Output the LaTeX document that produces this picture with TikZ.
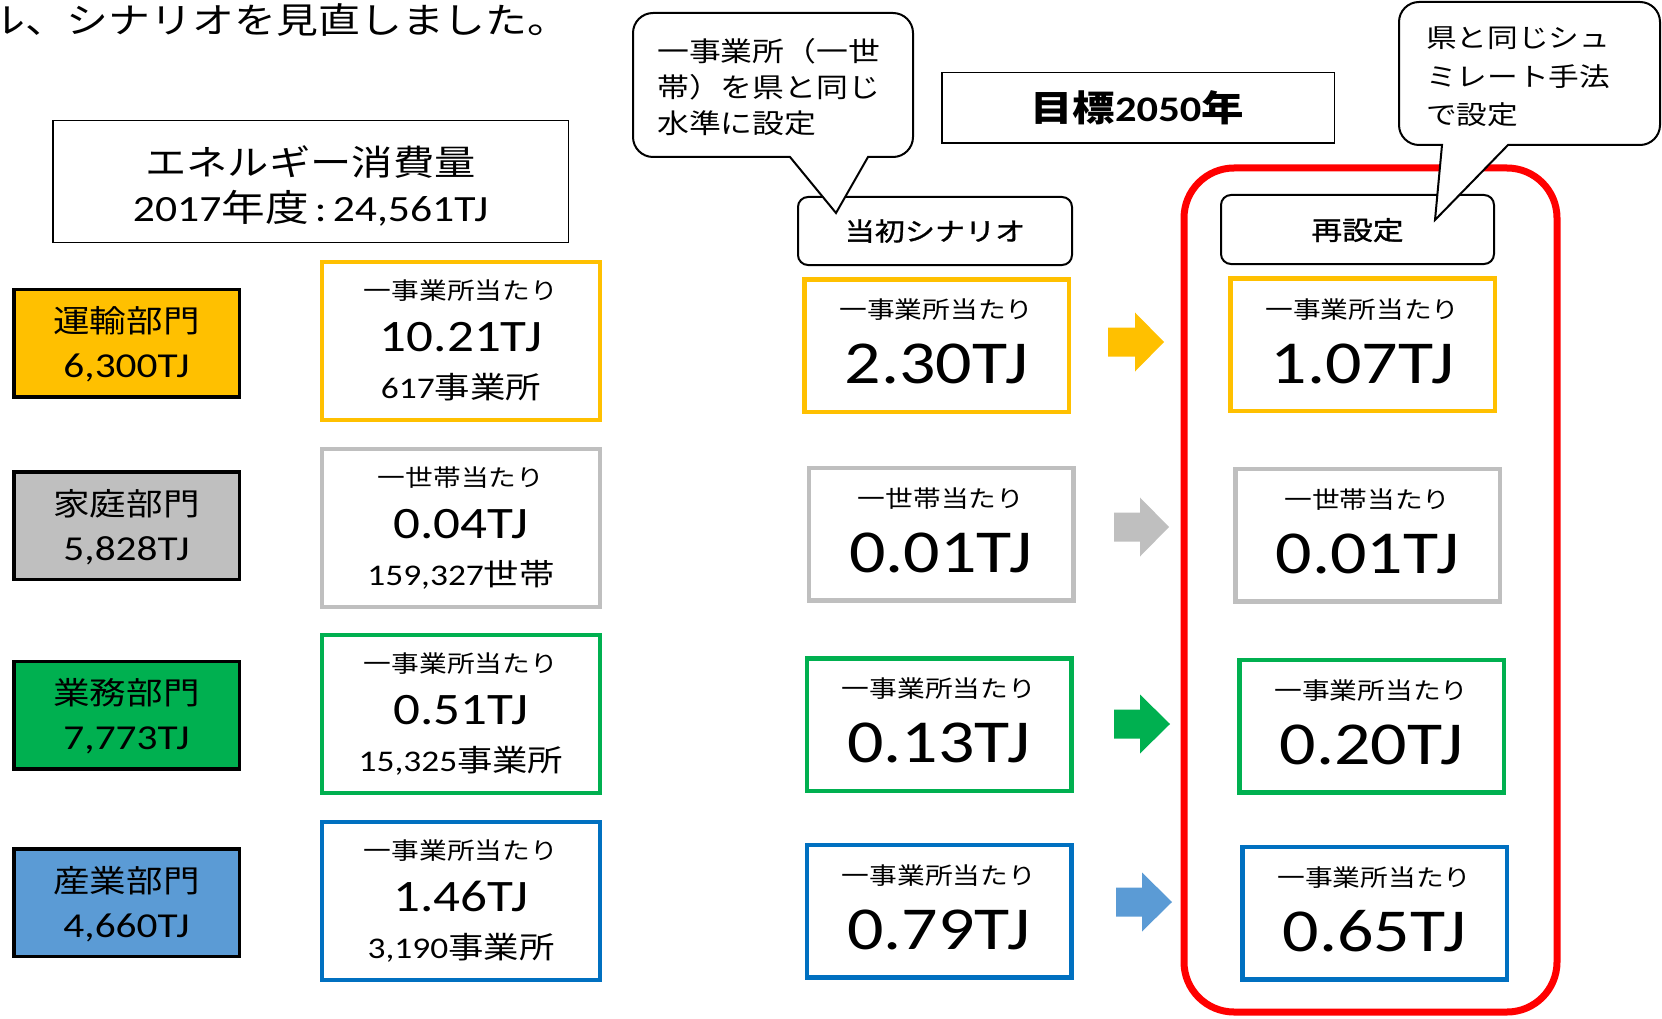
\documentclass[tikz,border=0pt]{standalone}
\usepackage{fontspec}
\setmainfont{Noto Sans CJK JP}[FakeStretch=1.18]
\newfontfamily\lat{Carlito}[FakeStretch=1.18]
\newfontfamily\jpm{Noto Sans CJK JP}[FakeStretch=1.18,FakeBold=1.2]
\newcommand\nm[1]{{\lat #1}}
\newcommand\fs[1]{\fontsize{#1}{#1}\selectfont}
\definecolor{cyel}{HTML}{FFC000}
\definecolor{cgry}{HTML}{BFBFBF}
\definecolor{cgrn}{HTML}{00B050}
\definecolor{cblu}{HTML}{0070C0}
\definecolor{cbll}{HTML}{5B9BD5}
\definecolor{cred}{HTML}{FF0000}
\tikzset{
  sect/.style={draw=black, line width=3.5, fill=#1, minimum width=225.5, minimum height=107.5, inner sep=0},
  mbox/.style={draw=#1, line width=4, fill=white, minimum width=278, minimum height=158, inner sep=0},
  sbox/.style={draw=#1, line width=4.5, fill=white, minimum width=264.5, minimum height=132.5, inner sep=0},
  lbl/.style={draw=black, line width=2, rounded corners=10, fill=white, inner sep=0},
  plainbox/.style={draw=black, line width=1.5, inner sep=0},
  txt/.style={anchor=base, inner sep=0},
  ltxt/.style={anchor=base west, inner sep=0},
  callout/.style={draw=black, line width=2, fill=white, line join=miter},
}
\begin{document}
\begin{tikzpicture}[x=1pt,y=-1pt]
\useasboundingbox (0,0) rectangle (1662,1019);
% intro text
\node[ltxt, font=\fs{35.5}] (intro) at (-17,33.5) {ル、シナリオを見直しました。};
% energy box
\node[plainbox, minimum width=515.5, minimum height=121.5] (energy) at (310.5,181.5) {};
\node[txt, font=\fs{35}] (energyT) at (310.5,176) {エネルギー消費量};
\node[txt, font=\fs{37}] (energyV) at (310.5,222) {\nm{2017}年度\nm{\thinspace:\thinspace 24,561TJ}};
% sectors
\node[sect=cyel] (s1) at (126.5,343) {};
\node[txt, font=\fs{31}] (s1a) at (126.5,332.8) {運輸部門};
\node[txt, font=\fs{35}] (s1b) at (126.5,377) {\nm{6,300TJ}};
\node[sect=cgry] (s2) at (126.5,525.5) {};
\node[txt, font=\fs{31}] (s2a) at (126.5,515.8) {家庭部門};
\node[txt, font=\fs{35}] (s2b) at (126.5,560) {\nm{5,828TJ}};
\node[sect=cgrn] (s3) at (126.5,715) {};
\node[txt, font=\fs{31}] (s3a) at (126.5,704.8) {業務部門};
\node[txt, font=\fs{35}] (s3b) at (126.5,749) {\nm{7,773TJ}};
\node[sect=cbll] (s4) at (126.5,902.5) {};
\node[txt, font=\fs{31}] (s4a) at (126.5,892.8) {産業部門};
\node[txt, font=\fs{35}] (s4b) at (126.5,937) {\nm{4,660TJ}};
% middle column
\node[mbox=cyel] (m1) at (461,341) {};
\node[txt, font=\fs{23.5}] (m1a) at (461,299.4) {一事業所当たり};
\node[txt, font=\fs{45}] (m1b) at (461,351.9) {\nm{10.21TJ}};
\node[txt, font=\fs{30}] (m1c) at (461,398.9) {\nm{617}事業所};
\node[mbox=cgry] (m2) at (461,528) {};
\node[txt, font=\fs{23.5}] (m2a) at (461,486.4) {一世帯当たり};
\node[txt, font=\fs{45}] (m2b) at (461,538.9) {\nm{0.04TJ}};
\node[txt, font=\fs{30}] (m2c) at (461,585.9) {\nm{159,327}世帯};
\node[mbox=cgrn] (m3) at (461,714) {};
\node[txt, font=\fs{23.5}] (m3a) at (461,672.4) {一事業所当たり};
\node[txt, font=\fs{45}] (m3b) at (461,724.9) {\nm{0.51TJ}};
\node[txt, font=\fs{30}] (m3c) at (461,771.9) {\nm{15,325}事業所};
\node[mbox=cblu] (m4) at (461,901) {};
\node[txt, font=\fs{23.5}] (m4a) at (461,859.4) {一事業所当たり};
\node[txt, font=\fs{45}] (m4b) at (461,911.9) {\nm{1.46TJ}};
\node[txt, font=\fs{30}] (m4c) at (461,958.9) {\nm{3,190}事業所};
% target box
\node[plainbox, minimum width=392.5, minimum height=70.5] (target) at (1138,108) {};
\node[txt, font=\bfseries\fs{36}] (targetT) at (1137,122) {目標\nm{\bfseries 2050}年};
% red frame
\node[draw=cred, line width=7, rounded corners=50, minimum width=373, minimum height=844, inner sep=0] (frame) at (1370.5,590) {};
% labels
\node[lbl, minimum width=274, minimum height=68] (init) at (935,231) {};
\node[txt, font=\jpm\fs{25.5}] (initT) at (935,240.7) {当初シナリオ};
\node[lbl, minimum width=273, minimum height=69] (reset) at (1357.5,229.5) {};
\node[txt, font=\jpm\fs{26}] (resetT) at (1357.5,239.9) {再設定};
% scenario boxes
\node[sbox=cyel] (a1) at (936.5,345.5) {};
\node[txt, font=\fs{23.5}] (a1a) at (936.5,318) {一事業所当たり};
\node[txt, font=\fs{61}] (a1b) at (936.5,383.5) {\nm{2.30TJ}};
\node[sbox=cgry] (a2) at (941,534) {};
\node[txt, font=\fs{23.5}] (a2a) at (941,507) {一世帯当たり};
\node[txt, font=\fs{61}] (a2b) at (941,572.5) {\nm{0.01TJ}};
\node[sbox=cgrn] (a3) at (939,724.5) {};
\node[txt, font=\fs{23.5}] (a3a) at (939,697) {一事業所当たり};
\node[txt, font=\fs{61}] (a3b) at (939,762.5) {\nm{0.13TJ}};
\node[sbox=cblu] (a4) at (939,911) {};
\node[txt, font=\fs{23.5}] (a4a) at (939,884) {一事業所当たり};
\node[txt, font=\fs{61}] (a4b) at (939,949.5) {\nm{0.79TJ}};
% result boxes
\node[sbox=cyel] (r1) at (1362.5,344.5) {};
\node[txt, font=\fs{23.5}] (r1a) at (1362.5,318) {一事業所当たり};
\node[txt, font=\fs{61}] (r1b) at (1362.5,383.5) {\nm{1.07TJ}};
\node[sbox=cgry] (r2) at (1367.5,535) {};
\node[txt, font=\fs{23.5}] (r2a) at (1367.5,508) {一世帯当たり};
\node[txt, font=\fs{61}] (r2b) at (1367.5,573.5) {\nm{0.01TJ}};
\node[sbox=cgrn] (r3) at (1371.5,726) {};
\node[txt, font=\fs{23.5}] (r3a) at (1371.5,699) {一事業所当たり};
\node[txt, font=\fs{61}] (r3b) at (1371.5,764.5) {\nm{0.20TJ}};
\node[sbox=cblu] (r4) at (1374.5,913) {};
\node[txt, font=\fs{23.5}] (r4a) at (1374.5,886) {一事業所当たり};
\node[txt, font=\fs{61}] (r4b) at (1374.5,951.5) {\nm{0.65TJ}};
% block arrows
\fill[cyel] (1108,327.5) -- (1135,327.5) -- (1135,312.5) -- (1164,342) -- (1135,371.5) -- (1135,356.5) -- (1108,356.5) -- cycle;
\fill[cgry] (1114,512.5) -- (1140,512.5) -- (1140,497.5) -- (1169,527) -- (1140,556.5) -- (1140,541.5) -- (1114,541.5) -- cycle;
\fill[cgrn] (1114,709.5) -- (1140,709.5) -- (1140,694.5) -- (1170,724) -- (1140,753.5) -- (1140,738.5) -- (1114,738.5) -- cycle;
\fill[cbll] (1116,887.5) -- (1142,887.5) -- (1142,872.5) -- (1172,902) -- (1142,931.5) -- (1142,916.5) -- (1116,916.5) -- cycle;
% callout 1
\draw[callout] (653,13) -- (893,13) .. controls (904,13) and (913,22) .. (913,33) -- (913,137) .. controls (913,148) and (904,157) .. (893,157) -- (868,157) -- (836,213) -- (790,157) -- (653,157) .. controls (642,157) and (633,148) .. (633,137) -- (633,33) .. controls (633,22) and (642,13) .. (653,13) -- cycle;
\node[ltxt, font=\fs{27}] (c1a) at (657,62) {一事業所（一世};
\node[ltxt, font=\fs{27}] (c1b) at (657,98) {帯）を県と同じ};
\node[ltxt, font=\fs{27}] (c1c) at (657,134) {水準に設定};
% callout 2
\draw[callout] (1419,2) -- (1640,2) .. controls (1651,2) and (1660,11) .. (1660,22) -- (1660,125) .. controls (1660,136) and (1651,145) .. (1640,145) -- (1508,145) -- (1435,220) -- (1442,145) -- (1419,145) .. controls (1408,145) and (1399,136) .. (1399,125) -- (1399,22) .. controls (1399,11) and (1408,2) .. (1419,2) -- cycle;
\node[ltxt, font=\fs{26}] (c2a) at (1426,48) {県と同じシュ};
\node[ltxt, font=\fs{26}] (c2b) at (1426,87) {ミレート手法};
\node[ltxt, font=\fs{26}] (c2c) at (1426,125) {で設定};
\end{tikzpicture}
\end{document}
